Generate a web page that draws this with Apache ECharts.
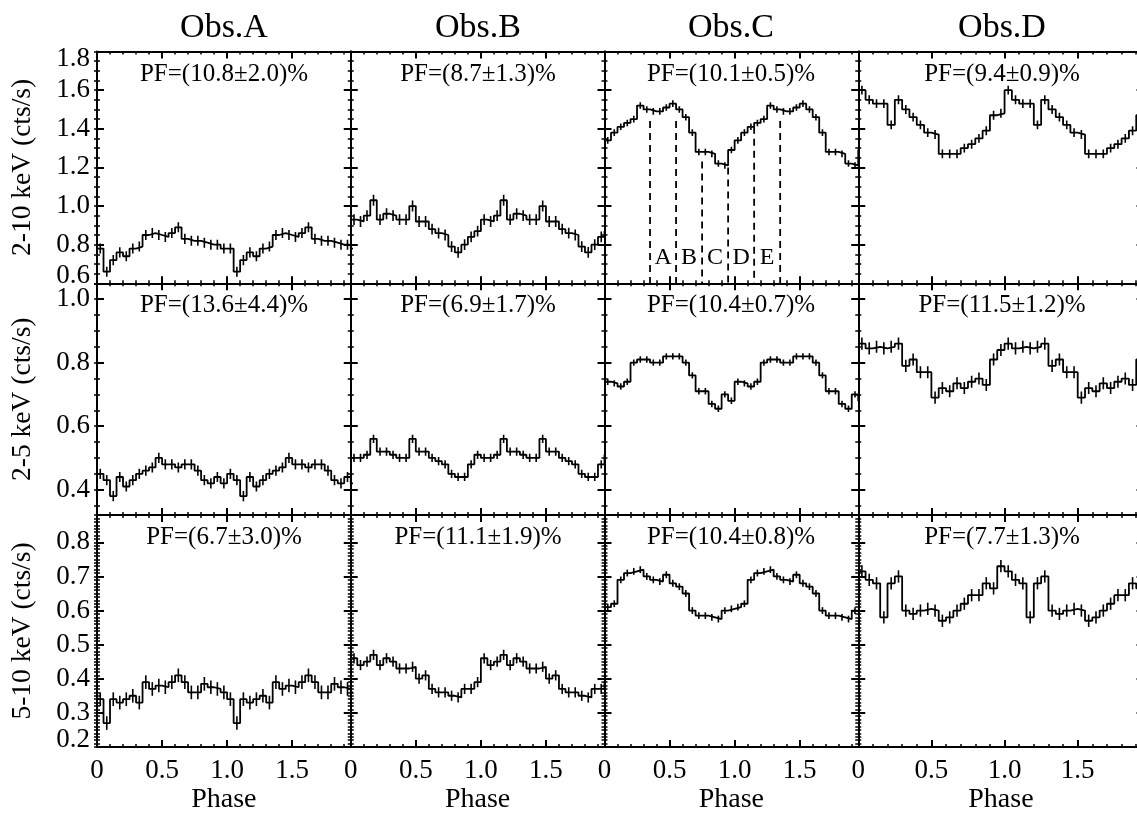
<!DOCTYPE html>
<html>
<head>
<meta charset="utf-8">
<title>Pulse profiles</title>
<script src="https://cdn.jsdelivr.net/npm/echarts@6.0.0/dist/echarts.min.js"></script>
<style>
    html, body { margin: 0; padding: 0; background: #fff; }
    #main { width: 1137px; height: 815px; }
</style>
</head>
<body>
<div id="main"></div>
<script>
// folded light curves, 20 phase bins per cycle, cts/s
var obsNames = ['Obs.A', 'Obs.B', 'Obs.C', 'Obs.D'];
var bandNames = ['2-10 keV (cts/s)', '2-5 keV (cts/s)', '5-10 keV (cts/s)'];

var pf_2_10 = ['PF=(10.8\u00b12.0)%', 'PF=(8.7\u00b11.3)%', 'PF=(10.1\u00b10.5)%', 'PF=(9.4\u00b10.9)%'];
var pf_2_5 = ['PF=(13.6\u00b14.4)%', 'PF=(6.9\u00b11.7)%', 'PF=(10.4\u00b10.7)%', 'PF=(11.5\u00b11.2)%'];
var pf_5_10 = ['PF=(6.7\u00b13.0)%', 'PF=(11.1\u00b11.9)%', 'PF=(10.4\u00b10.8)%', 'PF=(7.7\u00b11.3)%'];

var obsA_2_10 = [0.78, 0.66, 0.72, 0.76, 0.74, 0.78, 0.79, 0.85, 0.86, 0.85, 0.84, 0.86, 0.89, 0.83, 0.82, 0.82, 0.81, 0.80, 0.80, 0.78];
var obsB_2_10 = [0.93, 0.92, 0.95, 1.03, 0.93, 0.96, 0.95, 0.93, 0.93, 1.00, 0.92, 0.92, 0.88, 0.86, 0.85, 0.79, 0.76, 0.80, 0.84, 0.87];
var obsC_2_10 = [1.34, 1.38, 1.41, 1.43, 1.45, 1.52, 1.50, 1.49, 1.49, 1.51, 1.53, 1.50, 1.46, 1.38, 1.28, 1.28, 1.27, 1.22, 1.21, 1.29];
var obsD_2_10 = [1.60, 1.55, 1.53, 1.53, 1.42, 1.55, 1.50, 1.46, 1.42, 1.38, 1.37, 1.27, 1.27, 1.27, 1.30, 1.32, 1.35, 1.39, 1.47, 1.48];

var obsA_2_5 = [0.45, 0.43, 0.38, 0.44, 0.41, 0.43, 0.45, 0.46, 0.47, 0.50, 0.48, 0.48, 0.47, 0.48, 0.48, 0.46, 0.43, 0.42, 0.44, 0.42];
var obsB_2_5 = [0.50, 0.50, 0.51, 0.56, 0.52, 0.52, 0.51, 0.50, 0.50, 0.56, 0.52, 0.52, 0.50, 0.49, 0.48, 0.45, 0.44, 0.44, 0.48, 0.51];
var obsC_2_5 = [0.74, 0.735, 0.725, 0.74, 0.80, 0.81, 0.81, 0.80, 0.80, 0.82, 0.82, 0.82, 0.80, 0.76, 0.71, 0.71, 0.67, 0.655, 0.70, 0.68];
var obsD_2_5 = [0.86, 0.845, 0.85, 0.845, 0.85, 0.86, 0.79, 0.81, 0.77, 0.77, 0.69, 0.72, 0.71, 0.735, 0.72, 0.74, 0.75, 0.73, 0.81, 0.84];

var obsA_5_10 = [0.34, 0.27, 0.34, 0.33, 0.34, 0.35, 0.33, 0.39, 0.37, 0.38, 0.375, 0.39, 0.41, 0.39, 0.36, 0.36, 0.385, 0.375, 0.37, 0.36];
var obsB_5_10 = [0.46, 0.44, 0.45, 0.47, 0.44, 0.46, 0.45, 0.43, 0.43, 0.435, 0.40, 0.41, 0.37, 0.36, 0.36, 0.35, 0.345, 0.37, 0.37, 0.39];
var obsC_5_10 = [0.61, 0.62, 0.69, 0.71, 0.715, 0.72, 0.70, 0.69, 0.685, 0.705, 0.68, 0.67, 0.65, 0.60, 0.585, 0.585, 0.58, 0.575, 0.60, 0.605];
var obsD_5_10 = [0.715, 0.69, 0.68, 0.58, 0.68, 0.70, 0.60, 0.59, 0.60, 0.605, 0.60, 0.57, 0.58, 0.60, 0.62, 0.645, 0.645, 0.68, 0.665, 0.73];

// 1-sigma error per panel (A, B, C, D)
var err_2_10 = [0.026, 0.028, 0.017, 0.023];
var err_2_5 = [0.016, 0.013, 0.010, 0.019];
var err_5_10 = [0.020, 0.015, 0.010, 0.018];

// phase intervals marked in Obs.C 2-10 keV
var cutPhases = [0.35, 0.55, 0.75, 0.95, 1.15, 1.35];
var cutTops = [1.44, 1.44, 1.23, 1.20, 1.41, 1.44];
var cutLetters = ['A', 'B', 'C', 'D', 'E'];
var letterPhases = [0.45, 0.65, 0.85, 1.05, 1.25];
var letterLevel = 0.73;

var xTicks = [0, 0.5, 1.0, 1.5];
var xMax = 1.95;
var yTicks = [
    [0.6, 0.8, 1.0, 1.2, 1.4, 1.6, 1.8],
    [0.4, 0.6, 0.8, 1.0],
    [0.2, 0.3, 0.4, 0.5, 0.6, 0.7, 0.8]
];
var yRange = [[0.6, 1.8], [0.32, 1.05], [0.2, 0.88]];
var yMinorStep = [0.05, 0.05, 0.01];

var rows = [
    { name: bandNames[0], pf: pf_2_10, rates: [obsA_2_10, obsB_2_10, obsC_2_10, obsD_2_10], err: err_2_10 },
    { name: bandNames[1], pf: pf_2_5, rates: [obsA_2_5, obsB_2_5, obsC_2_5, obsD_2_5], err: err_2_5 },
    { name: bandNames[2], pf: pf_5_10, rates: [obsA_5_10, obsB_5_10, obsC_5_10, obsD_5_10], err: err_5_10 }
];

var FONT = '"Liberation Serif", "Times New Roman", serif';
// the last column is drawn at a wider phase scale and runs off the right edge
var colLeft = [97, 350.75, 604.5, 858.25];
var colWidth = [253.75, 253.75, 253.75, 285.3];
var textCenter = [224, 478, 731, 1002];
var plotTop = 51.5, rowHeight = 231.8;

function minorValues(min, max, step) {
    var out = [];
    for (var k = Math.ceil(min / step - 1e-6); k * step <= max + 1e-9; k++) {
        out.push(+(k * step).toFixed(4));
    }
    return out;
}

function histData(vals) {
    var n = vals.length, d = [];
    for (var i = 0; i < 2 * n; i++) d.push([+(i / n).toFixed(4), vals[i % n]]);
    d.push([2, vals[n - 1]]);
    return d;
}

function errData(vals, e) {
    var n = vals.length, d = [];
    for (var i = 0; i < 2 * n; i++) {
        var v = vals[i % n];
        d.push([+((i + 0.5) / n).toFixed(4), v - e, v + e]);
    }
    return d;
}

var grids = [], xAxes = [], yAxes = [], series = [], graphics = [];

function tickAxis(base, pos, values, len, width) {
    return Object.assign({}, base, {
        position: pos,
        axisLine: { show: false },
        axisTick: { show: true, inside: true, length: len, customValues: values, lineStyle: { color: '#000', width: width } },
        axisLabel: { show: false },
        splitLine: { show: false }
    });
}

rows.forEach(function (row, r) {
    obsNames.forEach(function (obs, c) {
        var g = r * 4 + c;
        var left = colLeft[c];
        var top = plotTop + r * rowHeight;
        grids.push({ left: left, top: top, width: colWidth[c], height: rowHeight, outerBoundsMode: 'none' });

        var yMin = yRange[r][0], yMax = yRange[r][1];
        var xb = { gridIndex: g, type: 'value', min: 0, max: xMax };
        var yb = { gridIndex: g, type: 'value', min: yMin, max: yMax };
        var xMinor = minorValues(0, xMax, 0.1);
        var yMinor = minorValues(yMin, yMax, yMinorStep[r]);

        // bottom x axis with labels
        xAxes.push(Object.assign({}, xb, {
            position: 'bottom',
            axisLine: { show: true, onZero: false, lineStyle: { color: '#000', width: 2 } },
            axisTick: { show: true, inside: true, length: 7, customValues: xTicks, lineStyle: { color: '#000', width: 2 } },
            axisLabel: {
                show: r === 2, customValues: xTicks, margin: 11, color: '#000', fontSize: 27, fontFamily: FONT,
                showMinLabel: true, showMaxLabel: true,
                formatter: function (v) { return v === 0 ? '0' : v.toFixed(1); }
            },
            splitLine: { show: false },
            name: r === 2 ? 'Phase' : '', nameLocation: 'middle', nameGap: 39,
            nameTextStyle: { color: '#000', fontSize: 28, fontFamily: FONT }
        }));
        xAxes.push(tickAxis(xb, 'bottom', xMinor, 3, 1.5));
        xAxes.push(Object.assign(tickAxis(xb, 'top', xTicks, 7, 2), {
            axisLine: { show: true, onZero: false, lineStyle: { color: '#000', width: 2 } }
        }));
        xAxes.push(tickAxis(xb, 'top', xMinor, 3, 1.5));

        // left y axis with labels
        yAxes.push(Object.assign({}, yb, {
            position: 'left',
            axisLine: { show: true, onZero: false, lineStyle: { color: '#000', width: 2 } },
            axisTick: { show: true, inside: true, length: 7, customValues: yTicks[r], lineStyle: { color: '#000', width: 2 } },
            axisLabel: {
                show: c === 0, customValues: yTicks[r], margin: 7, color: '#000', fontSize: 27, fontFamily: FONT,
                showMinLabel: true, showMaxLabel: true, hideOverlap: false,
                formatter: function (v) {
                    var s = v.toFixed(1);
                    if (Math.abs(v - yMin) < 1e-6) return '{lo|' + s + '}';
                    if (Math.abs(v - yMax) < 1e-6) return '{hi|' + s + '}';
                    return s;
                },
                rich: {
                    lo: { padding: [0, 0, 14, 0], fontSize: 27, fontFamily: FONT, color: '#000' },
                    hi: { padding: [14, 0, 0, 0], fontSize: 27, fontFamily: FONT, color: '#000' }
                }
            },
            splitLine: { show: false },
            name: c === 0 ? row.name : '', nameLocation: 'middle', nameRotate: 90, nameGap: 60,
            nameTextStyle: { color: '#000', fontSize: 27.5, fontFamily: FONT }
        }));
        yAxes.push(tickAxis(yb, 'left', yMinor, 3, 1.5));
        yAxes.push(Object.assign(tickAxis(yb, 'right', yTicks[r], 7, 2), {
            axisLine: { show: true, onZero: false, lineStyle: { color: '#000', width: 2 } }
        }));
        yAxes.push(tickAxis(yb, 'right', yMinor, 3, 1.5));

        var vals = row.rates[c];
        series.push({
            type: 'line', xAxisIndex: 4 * g, yAxisIndex: 4 * g,
            data: histData(vals), step: 'end', symbol: 'none', clip: true,
            lineStyle: { color: '#000', width: 1.8 }, silent: true
        });
        series.push({
            type: 'custom', xAxisIndex: 4 * g, yAxisIndex: 4 * g, clip: true, silent: true,
            encode: { x: 0, y: [1, 2] },
            data: errData(vals, row.err[c]),
            renderItem: function (params, api) {
                var p1 = api.coord([api.value(0), api.value(1)]);
                var p2 = api.coord([api.value(0), api.value(2)]);
                return {
                    type: 'line',
                    shape: { x1: p1[0], y1: p1[1], x2: p2[0], y2: p2[1] },
                    style: { stroke: '#000', lineWidth: 1.6 }
                };
            }
        });

        graphics.push({
            type: 'text', x: textCenter[c], y: top + 22.5, silent: true,
            style: { text: row.pf[c], fill: '#000', fontSize: 25, fontFamily: FONT, align: 'center', verticalAlign: 'middle' }
        });
        if (r === 0) {
            graphics.push({
                type: 'text', x: textCenter[c], y: 28, silent: true,
                style: { text: obs, fill: '#000', fontSize: 34, fontFamily: FONT, align: 'center', verticalAlign: 'middle' }
            });
        }
    });
});

// dashed phase cuts and interval letters on Obs.C 2-10 keV
var gC = 2;
series.push({
    type: 'custom', xAxisIndex: 4 * gC, yAxisIndex: 4 * gC, clip: true, silent: true,
    data: cutPhases.map(function (p, i) { return [p, cutTops[i]]; }),
    renderItem: function (params, api) {
        var p1 = api.coord([api.value(0), api.value(1)]);
        var p2 = api.coord([api.value(0), yRange[0][0]]);
        return {
            type: 'line',
            shape: { x1: p1[0], y1: p1[1], x2: p2[0], y2: p2[1] },
            style: { stroke: '#000', lineWidth: 1.8, lineDash: [7, 5] }
        };
    }
});
series.push({
    type: 'custom', xAxisIndex: 4 * gC, yAxisIndex: 4 * gC, silent: true,
    data: letterPhases.map(function (p) { return [p, letterLevel]; }),
    renderItem: function (params, api) {
        var p = api.coord([api.value(0), api.value(1)]);
        return {
            type: 'text', x: p[0], y: p[1],
            style: { text: cutLetters[params.dataIndex], fill: '#000', fontSize: 24, fontFamily: FONT, align: 'center', verticalAlign: 'middle' }
        };
    }
});

var chart = echarts.init(document.getElementById('main'));
chart.setOption({
    animation: false,
    backgroundColor: '#fff',
    grid: grids,
    xAxis: xAxes,
    yAxis: yAxes,
    series: series,
    graphic: graphics
});
</script>
</body>
</html>
